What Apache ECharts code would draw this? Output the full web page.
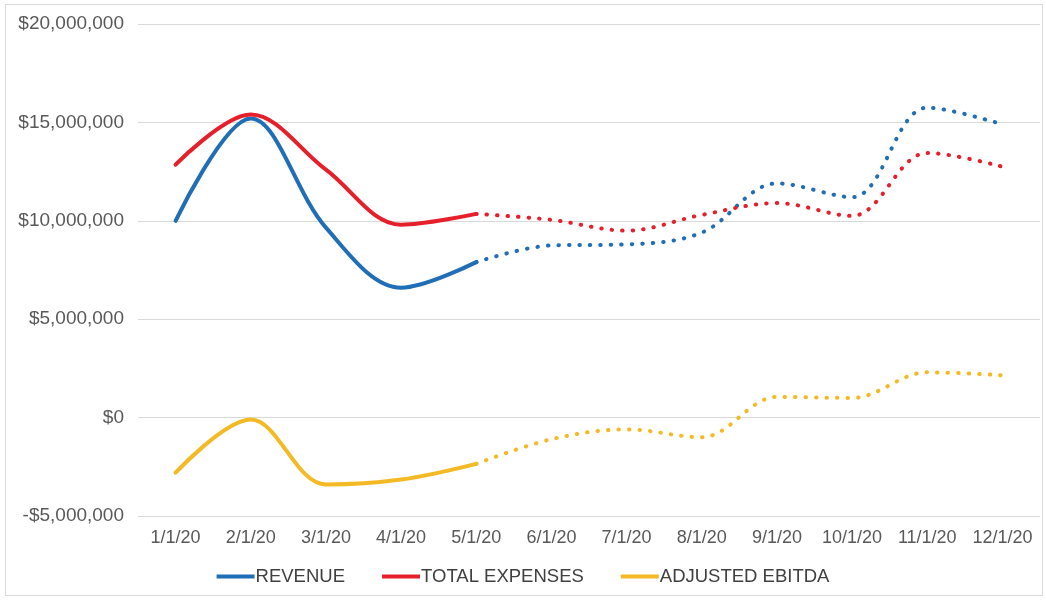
<!DOCTYPE html>
<html>
<head>
<meta charset="utf-8">
<script src="https://cdn.jsdelivr.net/npm/echarts@6/dist/echarts.min.js"></script>
<style>
html,body{margin:0;padding:0;background:#fff;}
#frame{position:absolute;left:5px;top:4px;width:1038px;height:592px;border:1px solid #d9d9d9;box-sizing:border-box;}
#chart{position:absolute;left:0;top:0;width:1046px;height:600px;}
</style>
</head>
<body>
<div id="frame"></div>
<div id="chart"></div>
<script>
const categories = ['1/1/20','2/1/20','3/1/20','4/1/20','5/1/20','6/1/20','7/1/20','8/1/20','9/1/20','10/1/20','11/1/20','12/1/20'];
const revenue  = [10.0e6, 15.2e6, 9.65e6, 6.6e6, 7.9e6, 8.75e6, 8.8e6, 9.4e6, 11.9e6, 11.2e6, 15.75e6, 14.9e6];
const expenses = [12.85e6, 15.4e6, 12.6e6, 9.8e6, 10.35e6, 10.05e6, 9.5e6, 10.3e6, 10.9e6, 10.25e6, 13.45e6, 12.75e6];
const ebitda   = [-2.8e6, -0.1e6, -3.4e6, -3.15e6, -2.35e6, -1.1e6, -0.6e6, -1.0e6, 1.05e6, 1.0e6, 2.3e6, 2.15e6];
const actualEnd = 4; // index of last actual month (5/1/20)

const names = ['REVENUE','TOTAL EXPENSES','ADJUSTED EBITDA'];
const colors = ['#1F6EB6','#E5202B','#F4BA26'];
const datasets = [revenue, expenses, ebitda];

function solidPart(arr){ return arr.map((v,i)=> i<=actualEnd ? v : null); }
function dottedPart(arr){ return arr.map((v,i)=> i>=actualEnd ? v : null); }

const series = [];
datasets.forEach((d,k)=>{
  series.push({
    name: names[k], type:'line', data: solidPart(d), smooth:0.35, showSymbol:false, symbol:'none',
    lineStyle:{color:colors[k], width:4, cap:'round'}, itemStyle:{color:colors[k]}, z:3
  });
  series.push({
    name: names[k]+'_f', type:'line', data: dottedPart(d), smooth:0.35, showSymbol:false, symbol:'none',
    lineStyle:{color:colors[k], width:4, type:[0.5,10], cap:'round'}, itemStyle:{color:colors[k]}, z:3
  });
});

function fmt(v){
  const s = Math.abs(v).toLocaleString('en-US');
  return (v<0?'-':'') + '$' + s;
}

const chart = echarts.init(document.getElementById('chart'));
chart.setOption({
  animation:false,
  textStyle:{fontFamily:'Liberation Sans, Arial, sans-serif'},
  grid:{left:138, right:6, top:24, bottom:84, containLabel:false},
  legend:{
    data: names, bottom:9, left:'center', icon:'rect', itemWidth:38, itemHeight:4, itemGap:37,
    textStyle:{color:'#404040', fontSize:18.5, padding:[0,0,0,-4]}
  },
  xAxis:{
    type:'category', data:categories, boundaryGap:true,
    axisLine:{show:false}, axisTick:{show:false},
    axisLabel:{color:'#595959', fontSize:18, margin:13, interval:0, hideOverlap:false}
  },
  yAxis:{
    type:'value', min:-5e6, max:20e6, interval:5e6,
    axisLine:{show:false}, axisTick:{show:false},
    splitLine:{lineStyle:{color:'#d9d9d9', width:1}},
    axisLabel:{color:'#595959', fontSize:19, margin:14, formatter:fmt}
  },
  series: series
});
</script>
</body>
</html>
